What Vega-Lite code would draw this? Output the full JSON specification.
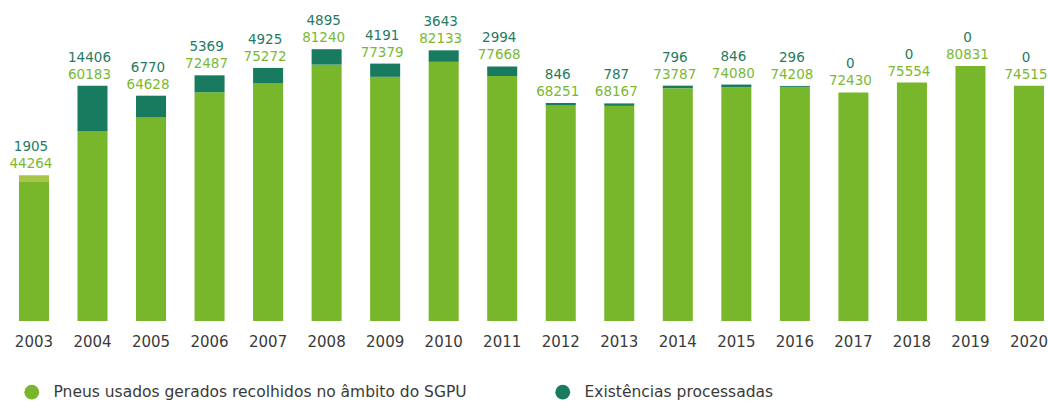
{
  "$schema": "https://vega.github.io/schema/vega-lite/v6.json",
  "width": 1048,
  "height": 284,
  "autosize": "none",
  "padding": {"left": 0, "top": 37, "right": 0, "bottom": 82},
  "background": "white",
  "config": {"view": {"stroke": null}, "font": "DejaVu Sans"},
  "data": {
    "values": [
      {"year": "2003", "pneus": 44264, "exist": 1905},
      {"year": "2004", "pneus": 60183, "exist": 14406},
      {"year": "2005", "pneus": 64628, "exist": 6770},
      {"year": "2006", "pneus": 72487, "exist": 5369},
      {"year": "2007", "pneus": 75272, "exist": 4925},
      {"year": "2008", "pneus": 81240, "exist": 4895},
      {"year": "2009", "pneus": 77379, "exist": 4191},
      {"year": "2010", "pneus": 82133, "exist": 3643},
      {"year": "2011", "pneus": 77668, "exist": 2994},
      {"year": "2012", "pneus": 68251, "exist": 846},
      {"year": "2013", "pneus": 68167, "exist": 787},
      {"year": "2014", "pneus": 73787, "exist": 796},
      {"year": "2015", "pneus": 74080, "exist": 846},
      {"year": "2016", "pneus": 74208, "exist": 296},
      {"year": "2017", "pneus": 72430, "exist": 0},
      {"year": "2018", "pneus": 75554, "exist": 0},
      {"year": "2019", "pneus": 80831, "exist": 0},
      {"year": "2020", "pneus": 74515, "exist": 0}
    ]
  },
  "transform": [{"fold": ["pneus", "exist"], "as": ["series", "value"]}],
  "encoding": {
    "x": {
      "field": "year",
      "type": "ordinal",
      "scale": {"paddingInner": 0.487, "paddingOuter": 0.196, "align": 0.826},
      "axis": {
        "title": null,
        "domain": false,
        "ticks": false,
        "labelAngle": 0,
        "labelFont": "DejaVu Sans",
        "labelFontSize": 15,
        "labelColor": "#3a3a3a",
        "labelPadding": 13
      }
    }
  },
  "layer": [
    {
      "mark": {"type": "bar"},
      "encoding": {
        "y": {
          "field": "value",
          "type": "quantitative",
          "stack": "zero",
          "scale": {"domain": [0, 90000], "nice": false},
          "axis": null
        },
        "order": {"field": "series", "sort": "descending"},
        "color": {
          "condition": {"test": "datum.year == '2003' && datum.series == 'exist'", "value": "#a9c549"},
          "field": "series",
          "type": "nominal",
          "scale": {"domain": ["pneus", "exist"], "range": ["#78b72b", "#187a5e"]},
          "legend": {
            "orient": "none",
            "direction": "horizontal",
            "legendX": 24,
            "legendY": 347,
            "title": null,
            "symbolType": "circle",
            "symbolSize": 220,
            "symbolStrokeWidth": 0,
            "labelFont": "DejaVu Sans",
            "labelFontSize": 15.5,
            "labelColor": "#3a3a3a",
            "labelOffset": 14,
            "columnPadding": 88,
            "labelLimit": 600,
            "labelExpr": "datum.label == 'pneus' ? 'Pneus usados gerados recolhidos no âmbito do SGPU' : 'Existências processadas'"
          }
        }
      }
    },
    {
      "mark": {"type": "text", "baseline": "alphabetic", "dy": -7, "dx": -3, "font": "DejaVu Sans", "fontSize": 13.5, "color": "#7ab834"},
      "encoding": {
        "y": {"aggregate": "sum", "field": "value", "type": "quantitative"},
        "text": {"aggregate": "max", "field": "pneus", "type": "quantitative", "format": "d"}
      }
    },
    {
      "mark": {"type": "text", "baseline": "alphabetic", "dy": -24, "dx": -3, "font": "DejaVu Sans", "fontSize": 13.5, "color": "#267a62"},
      "encoding": {
        "y": {"aggregate": "sum", "field": "value", "type": "quantitative"},
        "text": {"aggregate": "max", "field": "exist", "type": "quantitative", "format": "d"}
      }
    }
  ]
}
